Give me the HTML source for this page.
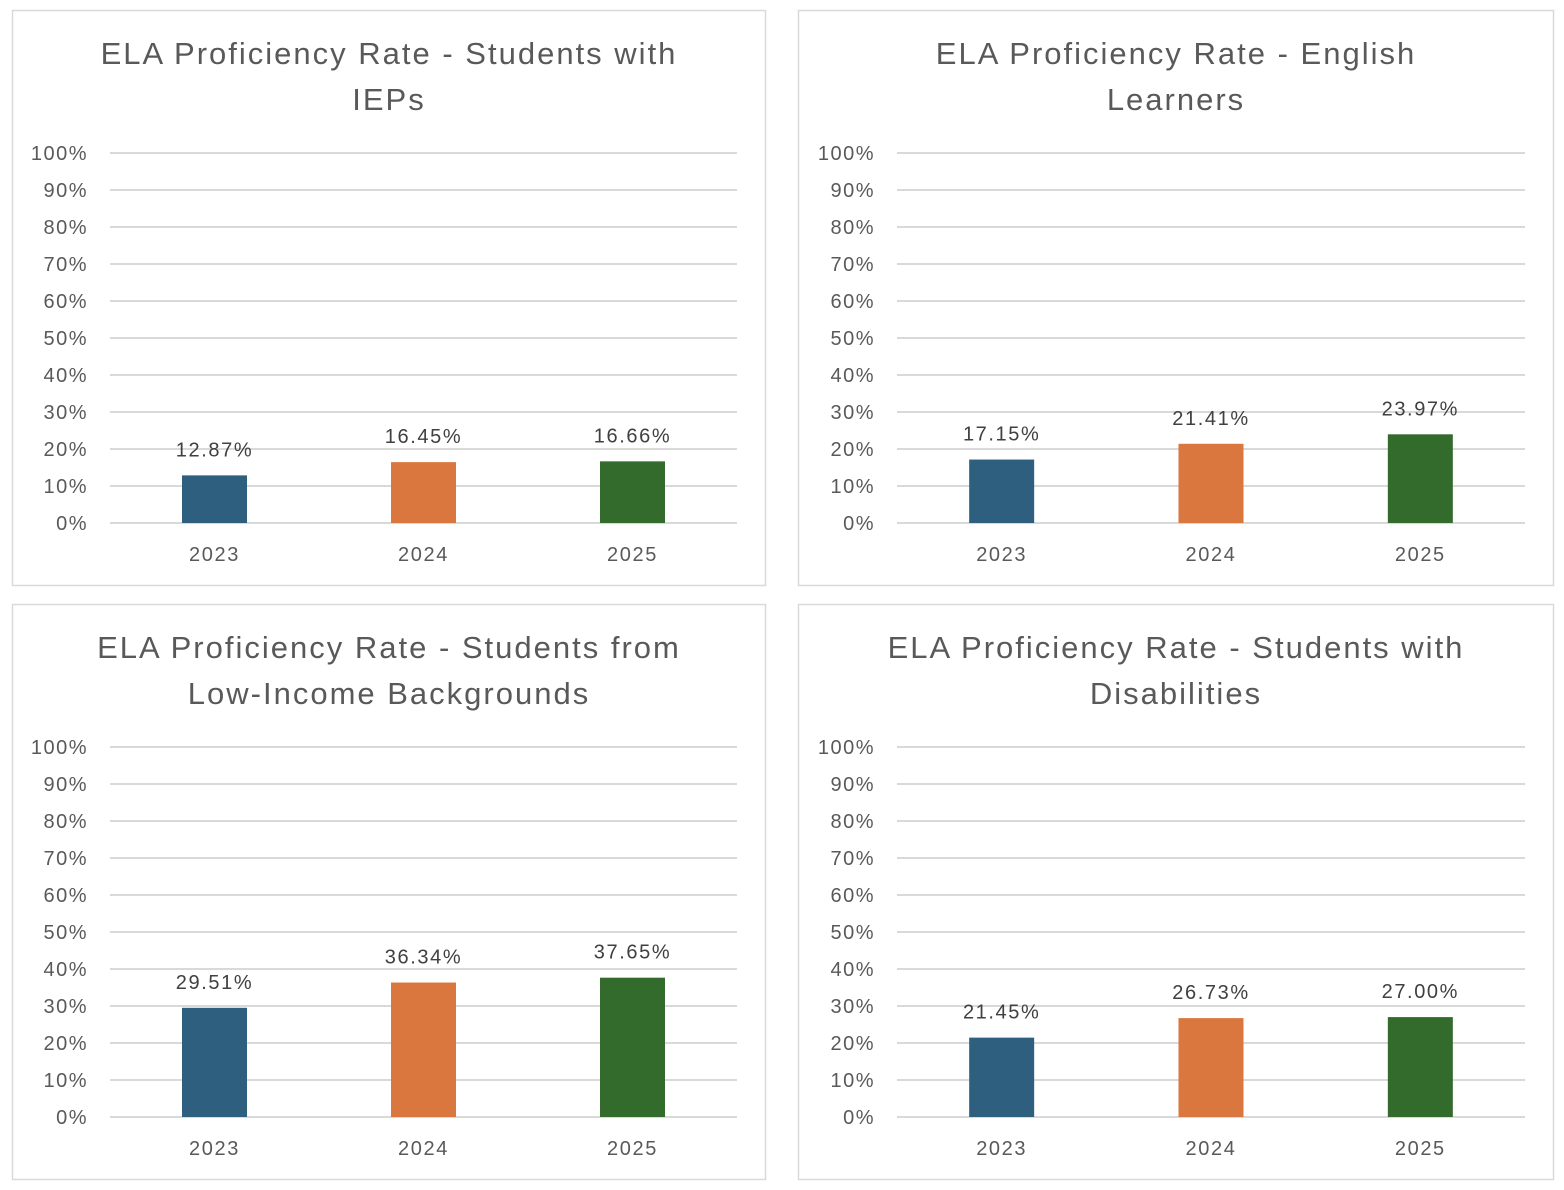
<!DOCTYPE html>
<html><head><meta charset="utf-8"><style>
body{margin:0;background:#fff;width:1564px;height:1190px;overflow:hidden;font-family:"Liberation Sans",sans-serif}
svg{position:absolute;left:0;top:0}
</style></head><body>
<svg id="c" width="1564" height="1190"></svg>
<script>
const categories=["2023","2024","2025"];
const titles=[["ELA Proficiency Rate - Students with","IEPs"],["ELA Proficiency Rate - English","Learners"],["ELA Proficiency Rate - Students from","Low-Income Backgrounds"],["ELA Proficiency Rate - Students with","Disabilities"]];
const iepValues=[12.87,16.45,16.66];
const elValues=[17.15,21.41,23.97];
const lowIncomeValues=[29.51,36.34,37.65];
const disabilityValues=[21.45,26.73,27.00];
const tickLabels=["0%","10%","20%","30%","40%","50%","60%","70%","80%","90%","100%"];
const tickValues=[0,10,20,30,40,50,60,70,80,90,100];
const colors=["#2e5f7f","#d9773f","#336b2d"];
const series=[iepValues,elValues,lowIncomeValues,disabilityValues];
const names=["iep","english-learners","low-income","disabilities"];
const NS="http://www.w3.org/2000/svg";
const svg=document.getElementById('c');
function mk(t,a,p){const e=document.createElementNS(NS,t);for(const k in a)e.setAttribute(k,a[k]);(p||svg).appendChild(e);return e;}
const panels=[{x:12,y:10,w:754,h:576,px:110,pw:627,y0:523},{x:798,y:10,w:756,h:576,px:897,pw:628,y0:523},{x:12,y:604,w:754,h:576,px:110,pw:627,y0:1117},{x:798,y:604,w:756,h:576,px:897,pw:628,y0:1117}];
panels.forEach((p,i)=>{
 const g=mk('g',{});
 
 
 const r=mk('rect',{x:p.x+0.5,y:p.y+0.5,width:p.w-1,height:p.h-1,fill:'#fff',stroke:'#d9d9d9','stroke-width':1.5},g);
 
 const cx=p.x+p.w/2;
 titles[i].forEach((l,j)=>{const t=mk('text',{x:cx,y:p.y+54+46*j,'text-anchor':'middle','font-size':31,'letter-spacing':2,fill:'#595959'},g);t.textContent=l;
  });
 const ys=v=>p.y0-v*3.7;
 tickValues.forEach((v,k)=>{
  const ln=mk('line',{x1:p.px,x2:p.px+p.pw,y1:ys(v),y2:ys(v),stroke:'#d9d9d9','stroke-width':2},g);
  
  const t=mk('text',{x:p.px-22,y:ys(v)+7,'text-anchor':'end','font-size':20,'letter-spacing':1.5,fill:'#595959'},g);t.textContent=tickLabels[k];
  
 });
 const band=p.pw/categories.length;
 series[i].forEach((v,k)=>{
  const c=p.px+band*(k+0.5);
  const b=mk('rect',{x:c-32.5,y:ys(v),width:65,height:v*3.7,fill:colors[k]},g);
  
  const t=mk('text',{x:c,y:ys(v)-19,'text-anchor':'middle','font-size':20,'letter-spacing':1.6,fill:'#404040'},g);t.textContent=v.toFixed(2)+'%';
  
  const xl=mk('text',{x:c,y:p.y0+38,'text-anchor':'middle','font-size':20,'letter-spacing':1.6,fill:'#595959'},g);xl.textContent=categories[k];
  
 });
});
</script>
</body></html>
